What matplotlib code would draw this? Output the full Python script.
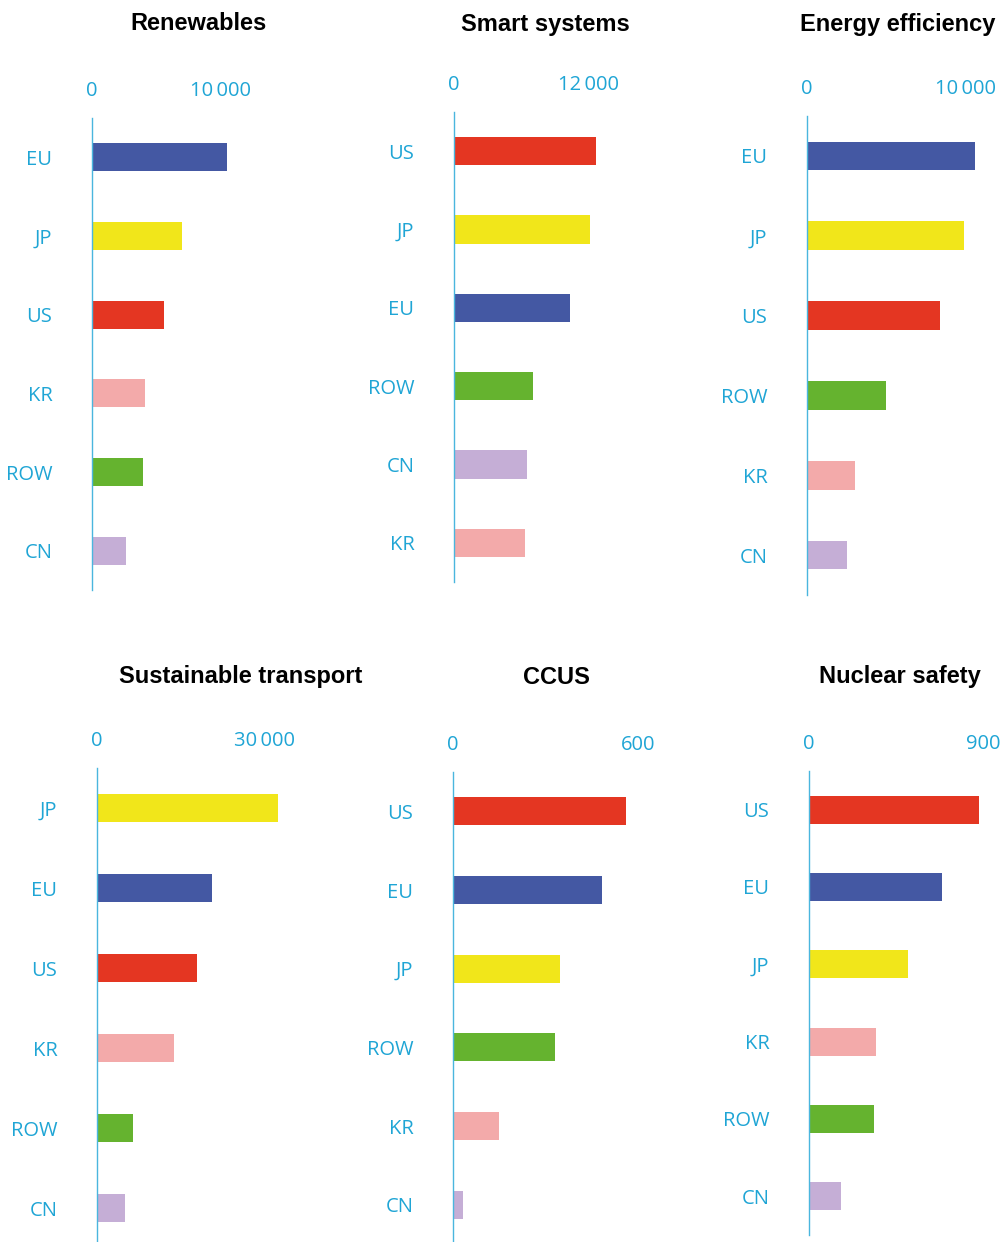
import matplotlib.pyplot as plt

plt.rcParams['font.family'] = ['Open Sans', 'DejaVu Sans']

# 各国颜色
colors = {
    'EU': '#4458a3',
    'JP': '#f1e61a',
    'US': '#e43622',
    'KR': '#f3aaaa',
    'ROW': '#65b32f',
    'CN': '#c5aed6',
}
blue = '#1fa5d5'

titles = ['Renewables', 'Smart systems', 'Energy efficiency',
          'Sustainable transport', 'CCUS', 'Nuclear safety']

renew_cats = ['EU', 'JP', 'US', 'KR', 'ROW', 'CN']
renew_vals = [10450, 6950, 5550, 4100, 3950, 2650]

smart_cats = ['US', 'JP', 'EU', 'ROW', 'CN', 'KR']
smart_vals = [12600, 12050, 10300, 7000, 6450, 6300]

eff_cats = ['EU', 'JP', 'US', 'ROW', 'KR', 'CN']
eff_vals = [10550, 9900, 8350, 5000, 3050, 2500]

trans_cats = ['JP', 'EU', 'US', 'KR', 'ROW', 'CN']
trans_vals = [32300, 20500, 17850, 13750, 6400, 5000]

ccus_cats = ['US', 'EU', 'JP', 'ROW', 'KR', 'CN']
ccus_vals = [561, 483, 347, 331, 149, 32]

nuc_cats = ['US', 'EU', 'JP', 'KR', 'ROW', 'CN']
nuc_vals = [879, 688, 512, 347, 336, 166]

tick_max = [10000, 12000, 10000, 30000, 600, 900]
tick_text = ['10\u2009000', '12\u2009000', '10\u2009000', '30\u2009000', '600', '900']

all_cats = [renew_cats, smart_cats, eff_cats, trans_cats, ccus_cats, nuc_cats]
all_vals = [renew_vals, smart_vals, eff_vals, trans_vals, ccus_vals, nuc_vals]

# 版面 (像素): 零线x, 轴顶y, 轴底y, 刻度最大值对应的x, 标题中心x, 标题y
layout = [
    (92, 118, 590, 221, 199, 24),
    (454, 112, 582, 589, 545, 24),
    (807, 116, 595, 966, 898, 24),
    (97, 768, 1248, 265, 241, 677),
    (453, 772, 1244, 638, 556, 677),
    (809, 771, 1235, 983, 900, 677),
]

W, H = 1003, 1242
fig = plt.figure(figsize=(W / 100, H / 100), dpi=100)

for i in range(6):
    x0, top, bot, xt, tx, ty = layout[i]
    aw = 200
    ax = fig.add_axes([x0 / W, 1 - bot / H, aw / W, (bot - top) / H])
    cats = all_cats[i]
    vals = all_vals[i]
    ax.barh(range(len(cats)), vals, height=0.36,
            color=[colors[c] for c in cats])
    ax.set_ylim(len(cats) - 0.5, -0.5)
    ax.set_xlim(0, tick_max[i] * aw / (xt - x0))
    ax.set_yticks(range(len(cats)))
    ax.set_yticklabels(cats)
    ax.xaxis.tick_top()
    ax.set_xticks([0, tick_max[i]])
    ax.set_xticklabels(['0', tick_text[i]])
    ax.tick_params(axis='y', length=0, pad=28.5, labelsize=14.5, labelcolor=blue)
    ax.tick_params(axis='x', length=0, pad=12, labelsize=14.5, labelcolor=blue)
    for s in ['top', 'right', 'bottom']:
        ax.spines[s].set_visible(False)
    ax.spines['left'].set_color('#4ab6de')
    ax.spines['left'].set_linewidth(1)
    fig.text(tx / W, 1 - ty / H, titles[i], ha='center', va='center',
             fontsize=17, fontweight='bold', family='Liberation Sans')

fig.savefig('out.png', dpi=100)
